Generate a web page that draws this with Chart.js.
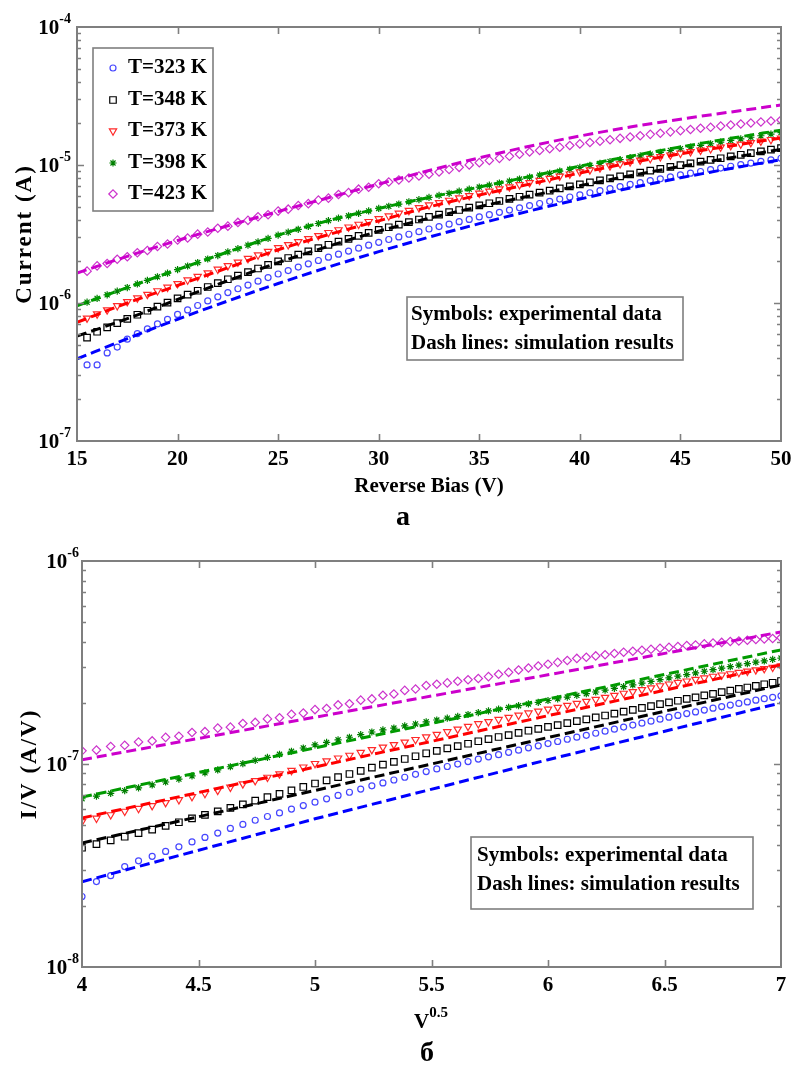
<!DOCTYPE html>
<html>
<head>
<meta charset="utf-8">
<script src="https://cdn.jsdelivr.net/npm/chart.js@4.4.1/dist/chart.umd.min.js"></script>
<style>
  body { margin: 0; background: #fff; width: 792px; height: 1068px; overflow: hidden; position: relative; }
  canvas { position: absolute; left: 0; }
  #ivChart { top: 0; }
  #pfChart { top: 534px; }
  .panel { position: absolute; font: bold 28px "Liberation Serif", serif; line-height: 28px; transform: translate(-50%, -50%); }
</style>
</head>
<body>
<canvas id="ivChart" width="792" height="505"></canvas>
<canvas id="pfChart" width="792" height="505"></canvas>
<div class="panel" style="left:403px; top:516px;">a</div>
<div class="panel" style="left:427px; top:1052px;">б</div>
<script>
// measured points, reverse bias (V)
const biasV = [15.5, 16, 16.5, 17, 17.5, 18, 18.5, 19, 19.5, 20, 20.5, 21, 21.5, 22, 22.5, 23, 23.5, 24, 24.5, 25,
  25.5, 26, 26.5, 27, 27.5, 28, 28.5, 29, 29.5, 30, 30.5, 31, 31.5, 32, 32.5, 33, 33.5, 34, 34.5, 35,
  35.5, 36, 36.5, 37, 37.5, 38, 38.5, 39, 39.5, 40, 40.5, 41, 41.5, 42, 42.5, 43, 43.5, 44, 44.5, 45,
  45.5, 46, 46.5, 47, 47.5, 48, 48.5, 49, 49.5, 50];

const temps = ['T=323 K', 'T=348 K', 'T=373 K', 'T=398 K', 'T=423 K'];

// measured current, uA
const meas323 = [0.356, 0.356, 0.435, 0.479, 0.547, 0.600, 0.649, 0.705, 0.762, 0.826, 0.891, 0.959, 1.035, 1.109, 1.189,
  1.268, 1.349, 1.439, 1.528, 1.622, 1.718, 1.820, 1.923, 2.032, 2.148, 2.259, 2.377, 2.495, 2.624, 2.754,
  2.884, 3.013, 3.148, 3.289, 3.436, 3.581, 3.724, 3.882, 4.036, 4.207, 4.365, 4.539, 4.710, 4.898, 5.082,
  5.260, 5.458, 5.662, 5.861, 6.081, 6.295, 6.516, 6.745, 6.982, 7.228, 7.464, 7.709, 7.943, 8.204, 8.472,
  8.730, 8.974, 9.247, 9.506, 9.795, 10.07, 10.33, 10.62, 10.89, 11.19];
const meas348 = [0.562, 0.619, 0.665, 0.715, 0.767, 0.822, 0.879, 0.942, 1.007, 1.079, 1.151, 1.227, 1.306, 1.393, 1.486,
  1.578, 1.675, 1.778, 1.888, 2.004, 2.118, 2.239, 2.366, 2.500, 2.642, 2.780, 2.917, 3.069, 3.221, 3.388,
  3.540, 3.698, 3.855, 4.027, 4.207, 4.375, 4.550, 4.721, 4.909, 5.105, 5.284, 5.483, 5.675, 5.888, 6.095,
  6.310, 6.531, 6.761, 6.998, 7.244, 7.482, 7.745, 7.998, 8.279, 8.551, 8.810, 9.099, 9.376, 9.683, 9.977,
  10.28, 10.57, 10.89, 11.19, 11.53, 11.86, 12.19, 12.56, 12.91, 13.27];
const meas373 = [0.776, 0.832, 0.891, 0.955, 1.023, 1.086, 1.153, 1.225, 1.300, 1.380, 1.466, 1.556, 1.652, 1.754, 1.862,
  1.977, 2.099, 2.228, 2.366, 2.512, 2.642, 2.780, 2.924, 3.076, 3.236, 3.388, 3.548, 3.715, 3.890, 4.074,
  4.266, 4.467, 4.677, 4.898, 5.129, 5.333, 5.546, 5.768, 5.998, 6.237, 6.457, 6.699, 6.934, 7.194, 7.447,
  7.727, 7.998, 8.299, 8.590, 8.913, 9.204, 9.528, 9.840, 10.19, 10.52, 10.84, 11.14, 11.48, 11.80, 12.16,
  12.47, 12.79, 13.12, 13.46, 13.80, 14.16, 14.52, 14.89, 15.28, 15.67];
const meas398 = [1.014, 1.079, 1.146, 1.219, 1.294, 1.374, 1.459, 1.549, 1.644, 1.746, 1.854, 1.963, 2.084, 2.208, 2.344,
  2.477, 2.624, 2.773, 2.938, 3.105, 3.258, 3.420, 3.589, 3.767, 3.954, 4.121, 4.285, 4.467, 4.645, 4.842,
  5.023, 5.212, 5.408, 5.610, 5.821, 6.026, 6.237, 6.457, 6.683, 6.918, 7.145, 7.396, 7.638, 7.907, 8.166,
  8.433, 8.710, 9.016, 9.311, 9.616, 9.931, 10.26, 10.59, 10.94, 11.30, 11.64, 11.99, 12.36, 12.74, 13.12,
  13.49, 13.87, 14.26, 14.66, 15.07, 15.45, 15.89, 16.29, 16.75, 17.18];
const meas423 = [1.702, 1.858, 1.932, 2.075, 2.163, 2.312, 2.404, 2.570, 2.673, 2.858, 2.958, 3.155, 3.266, 3.483, 3.606,
  3.837, 3.972, 4.217, 4.365, 4.634, 4.786, 5.082, 5.248, 5.572, 5.754, 6.109, 6.310, 6.683, 6.902, 7.311,
  7.534, 7.780, 8.054, 8.318, 8.570, 8.892, 9.268, 9.616, 10.02, 10.40, 10.79, 11.17, 11.56, 11.97, 12.42,
  12.76, 13.12, 13.46, 13.84, 14.22, 14.55, 14.89, 15.24, 15.60, 15.96, 16.29, 16.67, 16.98, 17.38, 17.74,
  18.07, 18.45, 18.75, 19.14, 19.50, 19.82, 20.14, 20.51, 20.84, 21.18];

// simulated current, uA
const simV = [15, 17.5, 20, 22.5, 25, 27.5, 30, 32.5, 35, 37.5, 40, 42.5, 45, 47.5, 50];
const sim323 = [0.393, 0.552, 0.762, 1.035, 1.384, 1.820, 2.355, 3.0, 3.758, 4.645, 5.662, 6.808, 8.072, 9.44, 10.91];
const sim348 = [0.575, 0.77, 1.06, 1.45, 1.96, 2.58, 3.31, 4.11, 4.99, 5.96, 7.08, 8.36, 9.75, 11.27, 12.97];
const sim373 = [0.724, 1.0, 1.34, 1.80, 2.43, 3.13, 3.94, 4.97, 6.06, 7.27, 8.75, 10.38, 12.05, 13.75, 15.7];
const sim398 = [0.955, 1.294, 1.746, 2.344, 3.105, 3.954, 4.842, 5.821, 6.918, 8.25, 9.81, 11.58, 13.51, 15.60, 17.87];
const sim423 = [1.648, 2.178, 2.838, 3.631, 4.603, 5.794, 7.278, 9.120, 11.27, 13.68, 16.22, 18.84, 21.48, 24.21, 27.23];

// simulated I/V against V^0.5, units of 1e-8 A/V
const pfX = [4, 5, 6, 7];
const pf323 = [2.63, 5.37, 10.5, 20.0];
const pf348 = [4.08, 7.41, 13.5, 24.5];
const pf373 = [5.42, 9.66, 17.3, 30.8];
const pf398 = [6.87, 12.0, 20.9, 36.5];
const pf423 = [10.5, 17.0, 27.5, 44.7];

const decadesIV = [-7, -6, -5, -4];
const decadesPF = [-8, -7, -6];

const measAll = [meas323, meas348, meas373, meas398, meas423];
const simAll = [sim323, sim348, sim373, sim398, sim423];
const pfAll = [pf323, pf348, pf373, pf398, pf423];

const looks = [
  { mark: '#4646ff', line: '#0000ff', shape: 'circle', r: 3 },
  { mark: '#000000', line: '#000000', shape: 'rect', r: 4.6 },
  { mark: '#ff2a2a', line: '#ff0000', shape: 'triangle', r: 4.2, rot: 180 },
  { mark: '#007f00', line: '#009a00', shape: 'star', r: 3.6 },
  { mark: '#cc33cc', line: '#cc00cc', shape: 'rectRot', r: 4.2 }
];

const SERIF = '"Liberation Serif", "Times New Roman", serif';
Chart.defaults.font.family = SERIF;

function markSet(pts, s) {
  return {
    data: pts, showLine: false, order: 1,
    pointStyle: s.shape, pointRadius: s.r, pointRotation: s.rot || 0,
    pointBorderColor: s.mark, pointBackgroundColor: 'rgba(0,0,0,0)', pointBorderWidth: 1.2
  };
}

function dashSet(pts, s, smooth) {
  return {
    data: pts, showLine: true, order: 0, fill: false,
    borderColor: s.line, borderWidth: 3, borderDash: [10, 5],
    pointRadius: 0, tension: 0, cubicInterpolationMode: smooth ? 'monotone' : 'default'
  };
}

// frame with inward ticks, power-of-ten labels, titles, legend and note box
const decor = {
  id: 'decor',
  afterDraw(chart, args, o) {
    const ctx = chart.ctx;
    const a = chart.chartArea;
    const xs = chart.scales.x, ys = chart.scales.y;
    ctx.save();

    ctx.strokeStyle = '#7f7f7f';
    ctx.lineWidth = 1.6;
    ctx.beginPath();
    xs.ticks.forEach(t => {
      if (t.value <= xs.min + 1e-9 || t.value >= xs.max - 1e-9) return;
      const px = Math.round(xs.getPixelForValue(t.value)) + 0.5;
      ctx.moveTo(px, a.bottom); ctx.lineTo(px, a.bottom - 7);
      ctx.moveTo(px, a.top); ctx.lineTo(px, a.top + 7);
    });
    o.decades.forEach((e, i) => {
      const py = Math.round(ys.getPixelForValue(Math.pow(10, e))) + 0.5;
      if (i > 0 && i < o.decades.length - 1) {
        ctx.moveTo(a.left, py); ctx.lineTo(a.left + 7, py);
        ctx.moveTo(a.right, py); ctx.lineTo(a.right - 7, py);
      }
      if (i < o.decades.length - 1) {
        for (let m = 2; m <= 9; m++) {
          const pm = Math.round(ys.getPixelForValue(m * Math.pow(10, e))) + 0.5;
          ctx.moveTo(a.left, pm); ctx.lineTo(a.left + 4, pm);
          ctx.moveTo(a.right, pm); ctx.lineTo(a.right - 4, pm);
        }
      }
    });
    ctx.stroke();
    ctx.lineWidth = 2;
    ctx.strokeRect(a.left, a.top, a.right - a.left, a.bottom - a.top);

    // 10^n labels
    ctx.fillStyle = '#000';
    o.decades.forEach(e => {
      const py = ys.getPixelForValue(Math.pow(10, e));
      const sup = String(e);
      ctx.font = 'bold 14px ' + SERIF;
      const w = ctx.measureText(sup).width;
      const xr = a.left - o.labelGap;
      ctx.textAlign = 'left';
      ctx.textBaseline = 'alphabetic';
      ctx.fillText(sup, xr - w, py - 4);
      ctx.font = 'bold 21px ' + SERIF;
      ctx.textAlign = 'right';
      ctx.fillText('10', xr - w, py + 7);
    });

    // axis titles
    ctx.textBaseline = 'middle';
    ctx.save();
    ctx.translate(o.yTitle.x, o.yTitle.y);
    ctx.rotate(-Math.PI / 2);
    ctx.textAlign = 'center';
    ctx.font = 'bold 23px ' + SERIF;
    ctx.letterSpacing = '2px';
    ctx.fillText(o.yTitle.text, 0, 0);
    ctx.restore();

    ctx.font = 'bold 21px ' + SERIF;
    if (o.xTitle.sup) {
      const wMain = ctx.measureText(o.xTitle.text).width;
      ctx.font = 'bold 15px ' + SERIF;
      const wSup = ctx.measureText(o.xTitle.sup).width;
      const x0 = o.xTitle.x - (wMain + wSup) / 2;
      ctx.textAlign = 'left';
      ctx.fillText(o.xTitle.sup, x0 + wMain, o.xTitle.y - 10);
      ctx.font = 'bold 21px ' + SERIF;
      ctx.fillText(o.xTitle.text, x0, o.xTitle.y);
    } else {
      ctx.textAlign = 'center';
      ctx.fillText(o.xTitle.text, o.xTitle.x, o.xTitle.y);
    }

    // temperature legend
    if (o.legend) {
      const L = o.legend;
      ctx.fillStyle = '#fff';
      ctx.fillRect(L.x, L.y, L.w, L.h);
      ctx.strokeStyle = '#7f7f7f';
      ctx.lineWidth = 1.6;
      ctx.strokeRect(L.x, L.y, L.w, L.h);
      temps.forEach((label, i) => {
        const s = looks[i];
        const cy = L.rows[i];
        ctx.strokeStyle = s.mark;
        ctx.fillStyle = 'rgba(0,0,0,0)';
        ctx.lineWidth = 1.2;
        if (Chart.helpers && Chart.helpers.drawPoint) {
          Chart.helpers.drawPoint(ctx, { pointStyle: s.shape, radius: s.r, rotation: s.rot || 0, borderWidth: 1.2 }, L.markX, cy);
        }
        ctx.fillStyle = '#000';
        ctx.font = 'bold 21px ' + SERIF;
        ctx.textAlign = 'left';
        ctx.textBaseline = 'middle';
        ctx.fillText(label, L.textX, cy);
      });
    }

    // note box
    const N = o.note;
    ctx.fillStyle = '#fff';
    ctx.fillRect(N.x, N.y, N.w, N.h);
    ctx.strokeStyle = '#7f7f7f';
    ctx.lineWidth = 1.6;
    ctx.strokeRect(N.x, N.y, N.w, N.h);
    ctx.fillStyle = '#000';
    ctx.font = 'bold 21px ' + SERIF;
    ctx.textAlign = 'left';
    ctx.textBaseline = 'middle';
    N.lines.forEach((t, i) => ctx.fillText(t, N.textX, N.rows[i]));

    ctx.restore();
  }
};

const noteLines = ['Symbols: experimental data', 'Dash lines: simulation results'];

function xAxis(min, max, step, height) {
  return {
    type: 'linear', min: min, max: max,
    grid: { display: false, drawTicks: false }, border: { display: false },
    ticks: {
      stepSize: step, color: '#000', font: { size: 21, weight: 'bold' }, padding: 6, maxRotation: 0, autoSkip: false,
      callback: v => String(Math.round(v * 10) / 10)
    },
    afterFit(s) { s.height = height; s.paddingLeft = 0; s.paddingRight = 0; }
  };
}

function yAxis(min, max, width) {
  return {
    type: 'logarithmic', min: min, max: max,
    grid: { display: false, drawTicks: false }, border: { display: false },
    ticks: { display: false },
    afterFit(s) { s.width = width; s.paddingTop = 0; s.paddingBottom = 0; }
  };
}

// I-V curves
const ivSets = [];
measAll.forEach((arr, i) => {
  ivSets.push(markSet(biasV.map((v, k) => ({ x: v, y: arr[k] * 1e-6 })), looks[i]));
});
simAll.forEach((arr, i) => {
  ivSets.push(dashSet(simV.map((v, k) => ({ x: v, y: arr[k] * 1e-6 })), looks[i], true));
});

new Chart(document.getElementById('ivChart'), {
  type: 'scatter',
  data: { datasets: ivSets },
  options: {
    responsive: false, animation: false, devicePixelRatio: 1,
    layout: { padding: { left: 0, right: 11, top: 27, bottom: 0 } },
    scales: { x: xAxis(15, 50, 5, 64), y: yAxis(1e-7, 1e-4, 77) },
    plugins: {
      legend: { display: false }, tooltip: { enabled: false },
      decor: {
        decades: decadesIV, labelGap: 6,
        yTitle: { text: 'Current (A)', x: 25, y: 234 },
        xTitle: { text: 'Reverse Bias (V)', x: 429, y: 487 },
        legend: { x: 93, y: 48, w: 120, h: 163, markX: 113, textX: 128, rows: [68, 100, 131, 163, 194] },
        note: { x: 407, y: 297, w: 276, h: 63, textX: 411, rows: [315, 344], lines: noteLines }
      }
    }
  },
  plugins: [decor]
});

// I/V against V^0.5, same measurements
const pfSets = [];
measAll.forEach((arr, i) => {
  const pts = biasV.map((v, k) => ({ x: Math.sqrt(v), y: arr[k] * 1e-6 / v }))
    .filter(p => p.x >= 4 - 1e-9 && p.x <= 7 + 1e-9);
  pfSets.push(markSet(pts, looks[i]));
});
pfAll.forEach((arr, i) => {
  pfSets.push(dashSet(pfX.map((s, k) => ({ x: s, y: arr[k] * 1e-8 })), looks[i], false));
});

new Chart(document.getElementById('pfChart'), {
  type: 'scatter',
  data: { datasets: pfSets },
  options: {
    responsive: false, animation: false, devicePixelRatio: 1,
    layout: { padding: { left: 0, right: 11, top: 27, bottom: 0 } },
    scales: { x: xAxis(4, 7, 0.5, 72), y: yAxis(1e-8, 1e-6, 82) },
    plugins: {
      legend: { display: false }, tooltip: { enabled: false },
      decor: {
        decades: decadesPF, labelGap: 3,
        yTitle: { text: 'I/V (A/V)', x: 30, y: 230 },
        xTitle: { text: 'V', sup: '0.5', x: 431, y: 489 },
        note: { x: 471, y: 303, w: 282, h: 72, textX: 477, rows: [322, 351], lines: noteLines }
      }
    }
  },
  plugins: [decor]
});
</script>
</body>
</html>
